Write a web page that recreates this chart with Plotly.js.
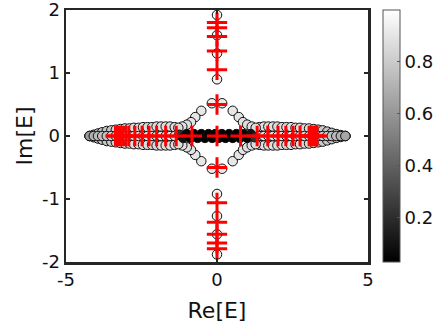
<!DOCTYPE html>
<html>
<head>
<meta charset="utf-8">
<script src="https://cdn.plot.ly/plotly-3.0.1.min.js"></script>
<style>html,body{margin:0;padding:0;background:#fff;}#chart{width:439px;height:330px;}</style>
</head>
<body>
<div id="chart"></div>
<script>
// ---- Data ----
// Horizontal band (grey circles): x position, upper-row Im, lower-row Im, colour value
const bandX   = [-4.22,-4.08,-3.94,-3.80,-3.65,-3.50,-3.35,-3.20,-3.05,-2.90,-2.75,-2.60,-2.45,-2.30,-2.15,-2.00,-1.85,-1.70,-1.55,-1.40,
                  1.40, 1.55, 1.70, 1.85, 2.00, 2.15, 2.30, 2.45, 2.60, 2.75, 2.90, 3.05, 3.20, 3.35, 3.50, 3.65, 3.80, 3.95, 4.10, 4.25];
const bandUp  = [ 0.00, 0.02, 0.04, 0.06, 0.08, 0.09, 0.10, 0.11, 0.12, 0.12, 0.13, 0.13, 0.14, 0.14, 0.14, 0.15, 0.15, 0.15, 0.15, 0.14,
                  0.14, 0.15, 0.15, 0.15, 0.15, 0.14, 0.14, 0.14, 0.13, 0.13, 0.12, 0.12, 0.11, 0.10, 0.09, 0.07, 0.05, 0.03, 0.015, 0.00];
const bandLo  = [ 0.00,-0.02,-0.04,-0.06,-0.08,-0.09,-0.10,-0.11,-0.12,-0.12,-0.13,-0.13,-0.14,-0.14,-0.14,-0.15,-0.15,-0.15,-0.15,-0.14,
                 -0.14,-0.15,-0.15,-0.15,-0.15,-0.14,-0.14,-0.14,-0.13,-0.13,-0.12,-0.12,-0.11,-0.10,-0.09,-0.07,-0.05,-0.03,-0.015, 0.00];
const bandMid = [ 0.00, 0.00, 0.00, 0.00, 0.00, 0.00, 0.00, 0.00, 0.00, 0.00, 0.00, 0.00, 0.00, 0.00, 0.00, 0.00, 0.00, 0.00, 0.00, 0.00,
                  0.00, 0.00, 0.00, 0.00, 0.00, 0.00, 0.00, 0.00, 0.00, 0.00, 0.00, 0.00, 0.00, 0.00, 0.00, 0.00, 0.00, 0.00, 0.00, 0.00];
const bandVal = [ 0.62, 0.70, 0.74, 0.76, 0.78, 0.80, 0.82, 0.84, 0.86, 0.85, 0.87, 0.86, 0.88, 0.87, 0.88, 0.86, 0.88, 0.87, 0.88, 0.88,
                  0.88, 0.88, 0.87, 0.88, 0.86, 0.88, 0.87, 0.88, 0.86, 0.87, 0.85, 0.86, 0.84, 0.82, 0.80, 0.78, 0.76, 0.74, 0.70, 0.66];

// Diamond arms round the origin
const armX   = [ 0.17, 0.52, 0.72, 0.86, 1.00, 1.15, 1.28, -0.17,-0.52,-0.72,-0.86,-1.00,-1.15,-1.28,
                 0.17, 0.52, 0.72, 0.86, 1.00, 1.15, 1.28, -0.17,-0.52,-0.72,-0.86,-1.00,-1.15,-1.28];
const armY   = [ 0.52, 0.40, 0.30, 0.22, 0.18, 0.15, 0.13,  0.52, 0.40, 0.30, 0.22, 0.18, 0.15, 0.13,
                -0.52,-0.40,-0.30,-0.22,-0.18,-0.15,-0.13, -0.52,-0.40,-0.30,-0.22,-0.18,-0.15,-0.13];
const armVal = [ 0.92, 0.91, 0.90, 0.89, 0.88, 0.88, 0.87,  0.92, 0.91, 0.90, 0.89, 0.88, 0.88, 0.87,
                 0.92, 0.91, 0.90, 0.89, 0.88, 0.88, 0.87,  0.92, 0.91, 0.90, 0.89, 0.88, 0.88, 0.87];

// Imaginary-axis column
const colX   = [0, 0, 0, 0, 0, 0, 0, 0];
const colY   = [1.92, 1.60, 1.31, 0.90, -0.92, -1.27, -1.56, -1.88];
const colVal = [0.97, 0.96, 0.96, 0.95, 0.95, 0.96, 0.96, 0.97];

// Dark circles on the real axis near the centre
const darkX   = [-1.25,-1.12,-1.00,-0.88,-0.76,-0.64,-0.52,-0.40,-0.28,-0.16,-0.06, 0.00, 0.06, 0.16, 0.28, 0.40, 0.52, 0.64, 0.76, 0.88, 1.00, 1.12, 1.25];
const darkY   = [ 0.02,-0.03, 0.03,-0.03, 0.03,-0.03, 0.03,-0.03, 0.03,-0.03, 0.03, 0.00,-0.03, 0.03,-0.03, 0.03,-0.03, 0.03,-0.03, 0.03,-0.03, 0.03,-0.02];
const darkVal = [ 0.22, 0.10, 0.05, 0.04, 0.03, 0.03, 0.03, 0.03, 0.03, 0.03, 0.03, 0.03, 0.03, 0.03, 0.03, 0.03, 0.03, 0.03, 0.03, 0.04, 0.05, 0.10, 0.22];

// Red crosses
const crossX = [0, 0, 0, 0, 0, 0, 0, 0, 0, 0, 0, 0, 0,
                -0.83,-1.35,-1.70,-2.00,-2.25,-2.48,-2.72,-2.92,-3.02,-3.12,-3.20,-3.28,-3.36,
                 0.78, 1.33, 1.68, 2.02, 2.28, 2.52, 2.75, 3.05, 3.12, 3.19, 3.25, 3.31];
const crossY = [1.80, 1.72, 1.58, 1.35, 1.05, 0.50, 0.00, -0.50, -1.06, -1.37, -1.56, -1.70, -1.79,
                0, 0, 0, 0, 0, 0, 0, 0, 0, 0, 0, 0, 0,
                0, 0, 0, 0, 0, 0, 0, 0, 0, 0, 0, 0];

// Axis ticks
const xTicks = [-5, 0, 5];
const xTickText = ['-5', '0', '5'];
const yTicks = [-2, -1, 0, 1, 2];
const yTickText = ['-2', '-1', '0', '1', '2'];
const cbTicks = [0.2, 0.4, 0.6, 0.8];

// ---- Build traces ----
const circX = [].concat(colX, bandX, bandX, bandX, armX, darkX);
const circY = [].concat(colY, bandUp, bandLo, bandMid, armY, darkY);
const circC = [].concat(colVal, bandVal, bandVal, bandVal, armVal, darkVal);

const greys = [[0, 'rgb(0,0,0)'], [1, 'rgb(255,255,255)']];
const font = 'DejaVu Sans, Arial, sans-serif';

const traces = [
  {
    x: circX, y: circY, type: 'scatter', mode: 'markers', hoverinfo: 'none',
    marker: {
      symbol: 'circle', size: 9.5, color: circC, colorscale: greys, cmin: 0.03, cmax: 1,
      line: {color: '#111', width: 1},
      showscale: true,
      colorbar: {
        x: 1.05, xanchor: 'left', xpad: 0, y: 0.5, yanchor: 'middle', ypad: 0,
        len: 1, lenmode: 'fraction', thickness: 17, thicknessmode: 'pixels',
        outlinewidth: 1, outlinecolor: '#555',
        tickmode: 'array', tickvals: cbTicks, ticks: 'inside', ticklen: 3, tickcolor: '#555',
        tickfont: {family: font, size: 18, color: '#111'}
      }
    }
  },
  {
    x: crossX, y: crossY, type: 'scatter', mode: 'markers', hoverinfo: 'none',
    marker: {symbol: 'cross-thin', size: 14.5, line: {color: 'rgb(255,0,0)', width: 3}, color: 'rgb(255,0,0)'}
  }
];

const layout = {
  width: 439, height: 330,
  margin: {l: 66, r: 71, t: 10, b: 68, autoexpand: false},
  paper_bgcolor: '#fff', plot_bgcolor: '#fff',
  showlegend: false,
  font: {family: font, color: '#111'},
  xaxis: {
    range: [-5, 5], tickmode: 'array', tickvals: xTicks, ticktext: xTickText, ticks: 'inside', ticklen: 4, tickwidth: 2,
    tickcolor: '#262626', showline: true, linecolor: '#262626', linewidth: 2.5, mirror: 'ticks',
    zeroline: false, showgrid: false, tickfont: {size: 18, family: font, color: '#111'}, ticklabeloverflow: 'allow',
    title: {text: 'Re[E]', font: {size: 22, family: font, color: '#111'}, standoff: 14}
  },
  yaxis: {
    range: [-2, 2], tickmode: 'array', tickvals: yTicks, ticktext: yTickText, ticks: 'inside', ticklen: 4, tickwidth: 2,
    tickcolor: '#262626', showline: true, linecolor: '#262626', linewidth: 2.5, mirror: 'ticks',
    zeroline: false, showgrid: false, tickfont: {size: 18, family: font, color: '#111'}, ticklabeloverflow: 'allow',
    title: {text: 'Im[E]', font: {size: 22, family: font, color: '#111'}, standoff: 3}
  }
};

Plotly.newPlot('chart', traces, layout, {staticPlot: true, displayModeBar: false});
</script>
</body>
</html>
